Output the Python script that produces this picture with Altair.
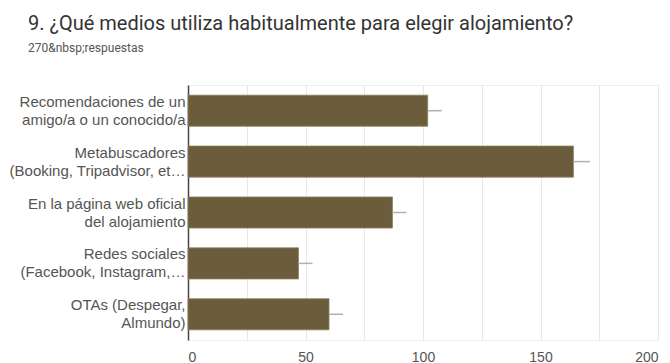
import altair as alt
import pandas as pd

categories = [
    "Recomendaciones de un|amigo/a o un conocido/a",
    "Metabuscadores|(Booking, Tripadvisor, et…",
    "En la página web oficial|del alojamiento",
    "Redes sociales|(Facebook, Instagram,…",
    "OTAs (Despegar,|Almundo)",
]
values = [102, 164, 87, 47, 60]
upper = [108, 171, 93, 53, 66]

df = pd.DataFrame({"cat": categories, "value": values, "upper": upper})

ysc = alt.Y("cat:N", sort=categories, title=None,
            scale=alt.Scale(paddingInner=0.39, paddingOuter=0.2),
            axis=alt.Axis(labelExpr="split(datum.label, '|')", labelLineHeight=18,
                          labelOffset=-9,
                          labelFontSize=15, labelColor="#555555", labelFont="Liberation Sans",
                          ticks=False, domainColor="#444444", domainWidth=1.5,
                          labelPadding=3, labelLimit=220))

xsc = alt.X("value:Q", title=None,
            scale=alt.Scale(domain=[0, 200], nice=False),
            axis=alt.Axis(values=[0, 25, 50, 75, 100, 125, 150, 175, 200],
                          labelExpr="datum.value % 50 == 0 ? datum.label : ''",
                          labelFontSize=14, labelColor="#555555", labelFont="Liberation Sans",
                          ticks=False, domain=False, gridColor="#e8e8e8",
                          labelPadding=10))

bars = alt.Chart(df).mark_bar(color="#6b5d3b", stroke="#8a7d5c", strokeWidth=0.8).encode(x=xsc, y=ysc)
err = alt.Chart(df).mark_rule(color="#b0b0b0", strokeWidth=1.5).encode(
    x="value:Q", x2="upper:Q", y=alt.Y("cat:N", sort=categories, bandPosition=0.5))

chart = (bars + err).properties(
    width=470, height=255,
    autosize=alt.AutoSizeParams(type="none"),
    padding={"left": 180, "top": 77, "right": 4, "bottom": 28},
    title=alt.TitleParams(
        "9. ¿Qué medios utiliza habitualmente para elegir alojamiento?",
        subtitle="270&nbsp;respuestas",
        anchor="start", frame="group", dx=-160, offset=31,
        font="Roboto", fontSize=20, fontWeight="normal", color="#333333",
        subtitleFont="Roboto", subtitleFontSize=12, subtitleColor="#555555",
        subtitlePadding=9,
    ),
).configure_view(stroke="#eeeeee")

chart.save("out.html", embed_options={"renderer": "svg", "actions": False})
